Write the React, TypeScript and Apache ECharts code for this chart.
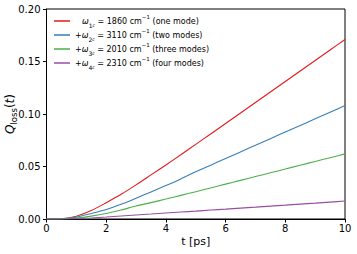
import React, { useEffect, useRef } from "react";
import * as echarts from "echarts";

const times = [0, 0.5, 1, 1.5, 2, 2.5, 3, 3.5, 4, 4.5, 5, 5.5, 6, 6.5, 7, 7.5, 8, 8.5, 9, 9.5, 10];
const oneMode = [0, 0.0002, 0.0027, 0.008, 0.0155, 0.0235, 0.0325, 0.042, 0.0515, 0.0612, 0.0711, 0.081, 0.091, 0.101, 0.111, 0.121, 0.131, 0.141, 0.151, 0.161, 0.171];
const twoModes = [0, 0.0002, 0.0018, 0.0052, 0.009, 0.014, 0.0198, 0.0258, 0.0319, 0.0382, 0.045, 0.0513, 0.0576, 0.0639, 0.0702, 0.0765, 0.0828, 0.0891, 0.0954, 0.1017, 0.108];
const threeModes = [0, 0.0001, 0.0009, 0.0027, 0.0052, 0.0086, 0.0123, 0.0156, 0.019, 0.0225, 0.026, 0.0296, 0.0332, 0.0368, 0.0404, 0.044, 0.0476, 0.0512, 0.0548, 0.0584, 0.062];
const fourModes = [0, 0, 0.0003, 0.001, 0.0019, 0.0029, 0.0038, 0.0047, 0.0057, 0.0066, 0.0075, 0.0085, 0.0094, 0.0104, 0.0113, 0.0123, 0.0132, 0.0142, 0.0151, 0.0161, 0.0171];

const seriesNames = ["one", "two", "three", "four"];
const modeIndex = ["1", "2", "3", "4"];
const frequencies = ["1860", "3110", "2010", "2310"];
const modeTexts = ["(one mode)", "(two modes)", "(three modes)", "(four modes)"];
const colors = ["#e41a1c", "#377eb8", "#4daf4a", "#984ea3"];
const xTicks = [0, 2, 4, 6, 8, 10];
const yTicks = [0, 0.05, 0.1, 0.15, 0.2];

const FONT = "DejaVu Sans";

export default function App() {
  const ref = useRef<HTMLDivElement>(null);
  useEffect(() => {
    if (!ref.current) return;
    const chart = echarts.init(ref.current, null, { renderer: "svg" });
    const allSeries = [oneMode, twoModes, threeModes, fourModes];
    const legendRich: any = {
      t: { fontFamily: FONT, fontSize: 8, color: "#000", lineHeight: 14, verticalAlign: "middle" },
      w: { fontFamily: FONT, fontSize: 8, color: "#000", lineHeight: 14, verticalAlign: "middle", fontStyle: "italic" },
      w0: { fontFamily: FONT, fontSize: 8, color: "#000", lineHeight: 14, verticalAlign: "middle", fontStyle: "italic", padding: [0, 0, 0, 7] },
      s: { fontFamily: FONT, fontSize: 6, color: "#000", lineHeight: 10, verticalAlign: "bottom" },
      ss: { fontFamily: FONT, fontSize: 4.5, color: "#000", lineHeight: 8, verticalAlign: "bottom", fontStyle: "italic" },
      sup: { fontFamily: FONT, fontSize: 5.5, color: "#000", lineHeight: 12, verticalAlign: "top" },
    };
    const option: any = {
      animation: false,
      grid: { left: 46.5, right: 12, top: 9, bottom: 35, outerBoundsMode: "none", containLabel: false, show: true, borderColor: "#000", borderWidth: 1, backgroundColor: "transparent" },
      legend: {
        orient: "vertical",
        left: 54,
        top: 14,
        padding: 0,
        itemGap: 0,
        itemWidth: 16,
        itemHeight: 1.5,
        icon: "rect",
        data: seriesNames,
        formatter: (name: string) => {
          const i = seriesNames.indexOf(name);
          const head = i === 0 ? "{w0|ω}" : "{t|+}{w|ω}";
          return `${head}{s|${modeIndex[i]}}{ss|c}{t| = ${frequencies[i]} cm}{sup|−1}{t| ${modeTexts[i]}}`;
        },
        textStyle: { rich: legendRich, fontFamily: FONT, fontSize: 8 },
      },
      xAxis: {
        type: "value",
        min: 0,
        max: 10,
        interval: 2,
        name: "t [ps]",
        nameLocation: "middle",
        nameGap: 17,
        nameMoveOverlap: false,
        nameTextStyle: { fontFamily: FONT, fontSize: 11, color: "#000" },
        axisLine: { show: true, lineStyle: { color: "#000", width: 1 } },
        axisTick: { show: true, inside: false, length: 3.5, lineStyle: { color: "#000" } },
        axisLabel: { fontFamily: FONT, fontSize: 10, color: "#000", margin: 4, formatter: (v: number) => (xTicks.includes(v) ? String(v) : "") },
        splitLine: { show: false },
      },
      yAxis: {
        type: "value",
        min: 0,
        max: 0.2,
        interval: 0.05,
        name: "{q|Q}{sb|loss}{n|(}{qi|t}{n|)}",
        nameLocation: "middle",
        nameRotate: 90,
        nameGap: 28,
        nameMoveOverlap: false,
        nameTextStyle: {
          rich: {
            q: { fontFamily: FONT, fontSize: 12, fontStyle: "italic", color: "#000", lineHeight: 18, verticalAlign: "middle" },
            qi: { fontFamily: FONT, fontSize: 12, fontStyle: "italic", color: "#000", lineHeight: 18, verticalAlign: "middle" },
            n: { fontFamily: FONT, fontSize: 12, color: "#000", lineHeight: 18, verticalAlign: "middle" },
            sb: { fontFamily: FONT, fontSize: 8.5, color: "#000", lineHeight: 13, verticalAlign: "bottom" },
          },
        },
        axisLine: { show: true, lineStyle: { color: "#000", width: 1 } },
        axisTick: { show: true, inside: false, length: 3.5, lineStyle: { color: "#000" } },
        axisLabel: { fontFamily: FONT, fontSize: 10, color: "#000", margin: 6, formatter: (v: number) => (yTicks.some((y) => Math.abs(y - v) < 1e-9) ? v.toFixed(2) : "") },
        splitLine: { show: false },
      },
      series: allSeries.map((vals, i) => ({
        name: seriesNames[i],
        type: "line",
        showSymbol: false,
        symbol: "none",
        smooth: 0.25,
        color: colors[i],
        lineStyle: { color: colors[i], width: 1.1 },
        data: times.map((t, k) => [t, vals[k]]),
      })),
    };
    chart.setOption(option);
    return () => chart.dispose();
  }, []);
  return <div ref={ref} style={{ width: 357, height: 254, position: "absolute", left: 0, top: 0 }} />;
}
